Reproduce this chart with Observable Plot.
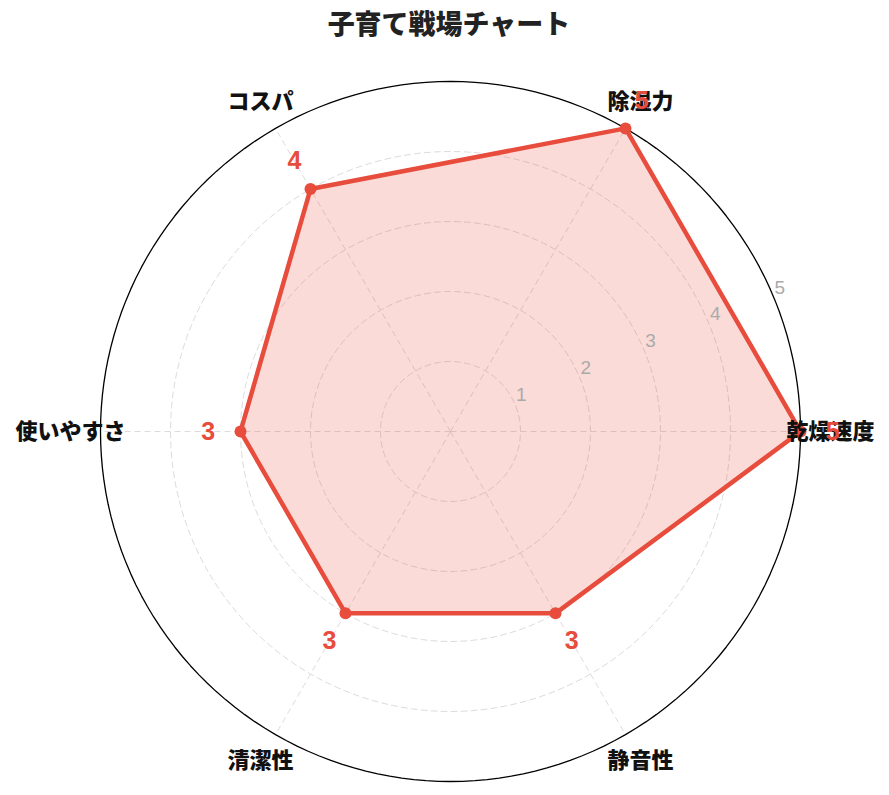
<!DOCTYPE html>
<html>
<head>
<meta charset="utf-8">
<script src="https://cdn.jsdelivr.net/npm/d3@7"></script>
<script src="https://cdn.jsdelivr.net/npm/@observablehq/plot@0.6"></script>
<style>
  html, body { margin: 0; padding: 0; background: #fff; }
  #title { width: 889px; height: 50px; line-height: 50px; text-align: center; box-sizing: border-box; padding-left: 9px;
    font-family: 'Liberation Sans', 'Noto Sans CJK JP', sans-serif; font-weight: 900; font-size: 27px; color: #222; }
</style>
</head>
<body>
<div id="title">子育て戦場チャート</div>
<div id="chart"></div>
<script>
const categories = ["乾燥速度", "除湿力", "コスパ", "使いやすさ", "清潔性", "静音性"];
const values = [5, 5, 4, 3, 3, 3];
const tickValues = [1, 2, 3, 4, 5];
const maxValue = 5;

const red = "#e74c3c";
const n = categories.length;
const ang = i => i * 2 * Math.PI / n;
const pxPerUnit = 70;
const W = 889, H = 745, cx = 450, cy = 381;

const axes = categories.map((c, i) => ({c, v: values[i], a: ang(i)}));
const poly = axes.map(d => ({x: d.v * Math.cos(d.a), y: d.v * Math.sin(d.a)}));
const circlePts = [];
for (const t of tickValues) {
  for (let k = 0; k < 180; k++) {
    const a = k * 2 * Math.PI / 180;
    circlePts.push({t, x: t * Math.cos(a), y: t * Math.sin(a)});
  }
}
const gridPts = circlePts.filter(d => d.t < maxValue);
const outerPts = circlePts.filter(d => d.t === maxValue);
const spokes = axes.map(d => ({x: maxValue * Math.cos(d.a), y: maxValue * Math.sin(d.a)}));
const labelR = maxValue + 0.43;
const catLabels = axes.map(d => ({text: d.c, x: labelR * Math.cos(d.a), y: labelR * Math.sin(d.a)}));
const valLabels = axes.map(d => ({text: String(d.v), x: (d.v + 0.46) * Math.cos(d.a), y: (d.v + 0.46) * Math.sin(d.a)}));
const tickA = Math.PI / 8;
const tickLabels = tickValues.map(t => ({text: String(t), x: t * Math.cos(tickA), y: t * Math.sin(tickA)}));

const chart = Plot.plot({
  width: W, height: H, margin: 0,
  style: {fontFamily: "'Liberation Sans', 'Noto Sans CJK JP', sans-serif", background: "#fff"},
  x: {type: "linear", domain: [-cx / pxPerUnit, (W - cx) / pxPerUnit], axis: null},
  y: {type: "linear", domain: [-(H - cy) / pxPerUnit, cy / pxPerUnit], axis: null},
  marks: [
    Plot.line(gridPts, {x: "x", y: "y", z: "t", curve: "linear-closed", stroke: "#dcdcdc", strokeWidth: 1, strokeDasharray: "6,4"}),
    Plot.link(spokes, {x1: 0, y1: 0, x2: "x", y2: "y", stroke: "#dcdcdc", strokeWidth: 1, strokeDasharray: "6,4"}),
    Plot.line(outerPts, {x: "x", y: "y", curve: "linear-closed", stroke: "#000", strokeWidth: 1.3}),
    Plot.line(poly, {x: "x", y: "y", curve: "linear-closed", fill: red, fillOpacity: 0.2, stroke: red, strokeWidth: 4.5, strokeLinejoin: "miter"}),
    Plot.dot(poly, {x: "x", y: "y", r: 6, fill: red, stroke: "none"}),
    Plot.text(tickLabels, {x: "x", y: "y", text: "text", fill: "#aaa", fontSize: 19, dx: 6, dy: -10}),
    Plot.text(catLabels, {x: "x", y: "y", text: "text", fill: "#111", fontSize: 22, fontWeight: 900}),
    Plot.text(valLabels, {x: "x", y: "y", text: "text", fill: red, fontSize: 25, fontWeight: "bold"})
  ]
});
document.getElementById("chart").appendChild(chart);
</script>
</body>
</html>
